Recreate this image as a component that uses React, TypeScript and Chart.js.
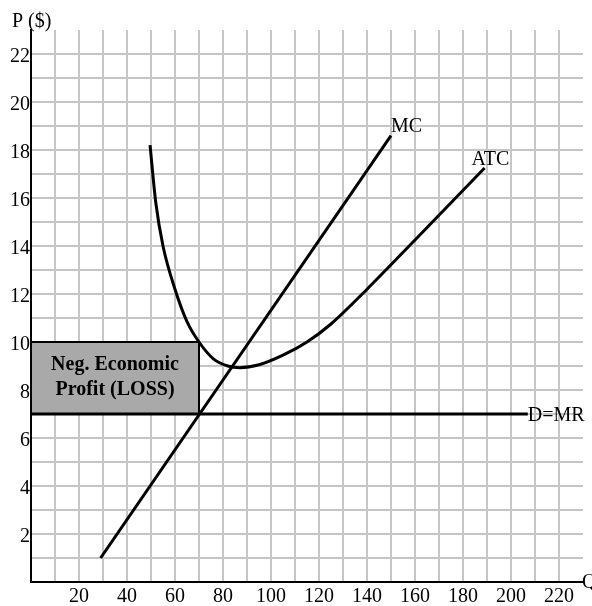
import React, { useEffect, useRef } from "react";
import { Chart, registerables } from "chart.js";

Chart.register(...registerables);

// ---- Data ----
const MC_Q = [29, 150];
const MC_P = [1.0, 18.6];

const ATC_Q = [49.6, 52, 55, 60, 65, 70, 76, 82, 87, 95, 105, 115, 125, 140, 160, 189];
const ATC_P = [18.2, 15.8, 14.0, 12.2, 10.85, 10.0, 9.3, 9.0, 8.93, 9.05, 9.45, 10.0, 10.75, 12.2, 14.25, 17.25];

const DEMAND_Q = [0, 207];
const DEMAND_P = [7, 7];

const LOSS_Q = 70; // quantity produced
const LOSS_PRICE = 7; // price = MR
const LOSS_ATC = 10; // ATC at quantity produced

const X_TICK_LABELS = [20, 40, 60, 80, 100, 120, 140, 160, 180, 200, 220];
const Y_TICK_LABELS = [2, 4, 6, 8, 10, 12, 14, 16, 18, 20, 22];

const X_MAX = 230;
const Y_MAX = 23;

const SERIF = "'Liberation Serif', 'Times New Roman', serif";

const toPoints = (xs: number[], ys: number[]) => xs.map((x, i) => ({ x, y: ys[i] }));

export default function App() {
  const canvasRef = useRef<HTMLCanvasElement | null>(null);

  useEffect(() => {
    document.body.style.margin = "0";
    const canvas = canvasRef.current;
    if (!canvas) return;

    const annotations = {
      id: "econAnnotations",
      beforeDatasetsDraw(chart: any) {
        const { ctx, scales } = chart;
        const xs = scales.x;
        const ys = scales.y;
        const x0 = xs.getPixelForValue(0);
        const x1 = xs.getPixelForValue(LOSS_Q);
        const yTop = ys.getPixelForValue(LOSS_ATC);
        const yBot = ys.getPixelForValue(LOSS_PRICE);
        ctx.save();
        ctx.fillStyle = "#a9a9a9";
        ctx.fillRect(x0, yTop, x1 - x0, yBot - yTop);
        ctx.strokeStyle = "#000";
        ctx.lineWidth = 2;
        ctx.strokeRect(x0, yTop, x1 - x0, yBot - yTop);
        ctx.fillStyle = "#000";
        ctx.font = `bold 20px ${SERIF}`;
        ctx.textAlign = "center";
        ctx.textBaseline = "middle";
        const cx = (x0 + x1) / 2;
        const cy = (yTop + yBot) / 2;
        ctx.fillText("Neg. Economic", cx, cy - 13);
        ctx.fillText("Profit (LOSS)", cx, cy + 12);
        ctx.restore();
      },
      afterDraw(chart: any) {
        const { ctx, scales, chartArea } = chart;
        const xs = scales.x;
        const ys = scales.y;
        ctx.save();
        ctx.fillStyle = "#000";
        ctx.font = `20px ${SERIF}`;
        ctx.textAlign = "left";
        ctx.textBaseline = "alphabetic";
        // axis titles
        ctx.fillText("P ($)", 12, 27);
        ctx.textBaseline = "middle";
        ctx.fillText("Q", chartArea.right - 1, chartArea.bottom + 1);
        // curve labels
        const mcX = xs.getPixelForValue(MC_Q[MC_Q.length - 1]);
        const mcY = ys.getPixelForValue(MC_P[MC_P.length - 1]);
        ctx.textBaseline = "alphabetic";
        ctx.fillText("MC", mcX, mcY - 4);
        const atcX = xs.getPixelForValue(ATC_Q[ATC_Q.length - 1]);
        const atcY = ys.getPixelForValue(ATC_P[ATC_P.length - 1]);
        ctx.fillText("ATC", atcX - 13, atcY - 3);
        const dX = xs.getPixelForValue(DEMAND_Q[DEMAND_Q.length - 1]);
        const dY = ys.getPixelForValue(DEMAND_P[DEMAND_P.length - 1]);
        ctx.textBaseline = "middle";
        ctx.fillText("D=MR", dX, dY + 2);
        ctx.restore();
      },
    };

    const chart = new Chart(canvas, {
      type: "line",
      data: {
        datasets: [
          {
            label: "D=MR",
            data: toPoints(DEMAND_Q, DEMAND_P),
            borderColor: "#000",
            borderWidth: 3,
            pointRadius: 0,
          },
          {
            label: "MC",
            data: toPoints(MC_Q, MC_P),
            borderColor: "#000",
            borderWidth: 3,
            pointRadius: 0,
          },
          {
            label: "ATC",
            data: toPoints(ATC_Q, ATC_P),
            borderColor: "#000",
            borderWidth: 3,
            pointRadius: 0,
            cubicInterpolationMode: "monotone",
          },
        ],
      },
      options: {
        animation: false,
        responsive: true,
        maintainAspectRatio: false,
        layout: { padding: { top: 30, right: 9, left: 0, bottom: 0 } },
        plugins: {
          legend: { display: false },
          tooltip: { enabled: false },
        },
        scales: {
          x: {
            type: "linear",
            min: 0,
            max: X_MAX,
            afterFit: (s: any) => {
              s.height = 24;
            },
            border: { display: true, color: "#000", width: 2 },
            grid: {
              drawTicks: false,
              lineWidth: 2,
              color: (c: any) =>
                c.tick && (c.tick.value === 0 || c.tick.value === X_MAX) ? "rgba(0,0,0,0)" : "#c6c6c6",
            },
            ticks: {
              stepSize: 10,
              autoSkip: false,
              maxRotation: 0,
              padding: 3,
              color: "#000",
              font: { family: SERIF, size: 20 },
              callback: (v: any) => (X_TICK_LABELS.includes(Number(v)) ? String(v) : ""),
            },
          },
          y: {
            type: "linear",
            min: 0,
            max: Y_MAX,
            afterFit: (s: any) => {
              s.width = 31;
            },
            border: { display: true, color: "#000", width: 2 },
            grid: {
              drawTicks: false,
              lineWidth: 2,
              color: (c: any) =>
                c.tick && (c.tick.value === 0 || c.tick.value === Y_MAX) ? "rgba(0,0,0,0)" : "#c6c6c6",
            },
            ticks: {
              stepSize: 1,
              autoSkip: false,
              padding: 1,
              labelOffset: 3,
              color: "#000",
              font: { family: SERIF, size: 20 },
              callback: (v: any) => (Y_TICK_LABELS.includes(Number(v)) ? String(v) : ""),
            },
          },
        },
      },
      plugins: [annotations],
    });

    return () => {
      chart.destroy();
    };
  }, []);

  return (
    <div style={{ position: "relative", width: 592, height: 606, background: "#fff" }}>
      <canvas ref={canvasRef} />
    </div>
  );
}
